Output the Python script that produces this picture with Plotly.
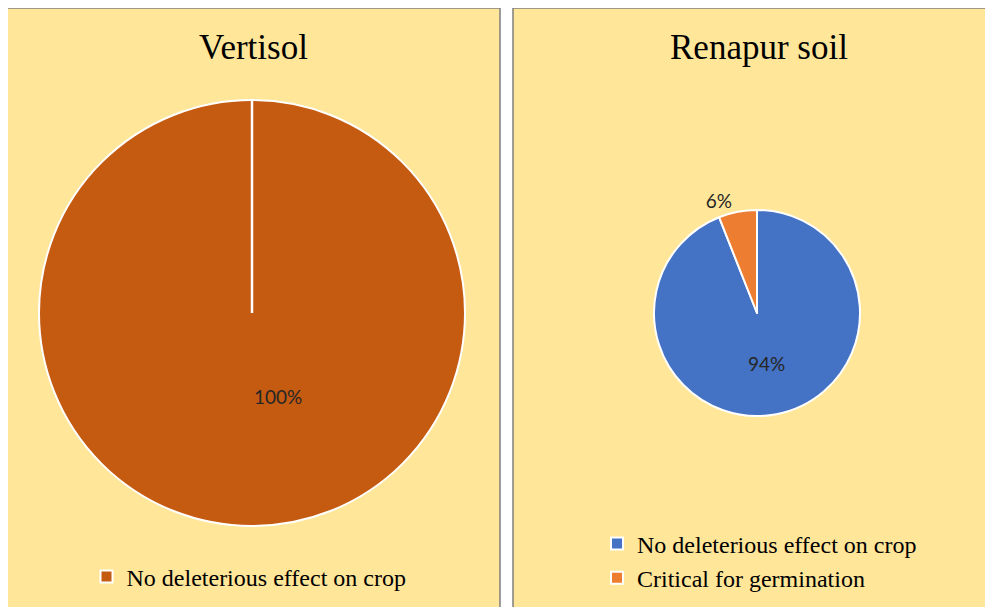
import plotly.graph_objects as go

# 데이터
vertisol_labels = ["No deleterious effect on crop"]
vertisol_values = [100]
# 오른쪽 범례가 왼쪽과 합쳐지지 않도록 라벨을 구분 (zero-width space)
renapur_labels = ["No deleterious effect on crop\u200b", "Critical for germination"]
renapur_values = [94, 6]

panel_bg = "#FFE699"
serif = "Liberation Serif"
sans = "Lato"

# 페이지 body 여백(8px)을 빼고 기준 그림의 픽셀 위치를 paper 좌표로 변환
W, H, OFF = 985, 599, 8


def px(X):
    return (X - OFF) / W


def py(Y):
    return 1 - (Y - OFF) / H


left_dom = dict(x=[px(39), px(465)], y=[py(526), py(100)])
right_dom = dict(x=[px(654), px(860)], y=[py(416), py(210)])

fig = go.Figure()

fig.add_trace(go.Pie(
    labels=vertisol_labels, values=vertisol_values,
    domain=left_dom, sort=False, direction="clockwise", rotation=0,
    marker=dict(colors=["#C55A11"], line=dict(color="white", width=2)),
    textinfo="none",
    legend="legend", showlegend=True,
))

fig.add_trace(go.Pie(
    labels=renapur_labels, values=renapur_values,
    domain=right_dom, sort=False, direction="clockwise", rotation=0,
    marker=dict(colors=["#4472C4", "#ED7D31"], line=dict(color="white", width=2)),
    textinfo="percent", textposition=["inside", "outside"],
    insidetextorientation="horizontal",
    textfont=dict(family=sans, size=19, color="#262626"),
    legend="legend2", showlegend=True,
))

# 패널 배경
for x0, x1 in [(px(3), px(500)), (px(513), px(1000))]:
    fig.add_shape(type="rect", xref="paper", yref="paper",
                  x0=x0, x1=x1, y0=-0.02, y1=py(8),
                  fillcolor=panel_bg, line=dict(color="#7F7F7F", width=1.5),
                  layer="below")

# Excel 단일 조각의 흰색 경계선
cx = sum(left_dom["x"]) / 2
cy = sum(left_dom["y"]) / 2
r_y = (left_dom["y"][1] - left_dom["y"][0]) / 2
fig.add_shape(type="line", xref="paper", yref="paper",
              x0=cx, x1=cx, y0=cy, y1=left_dom["y"][1],
              line=dict(color="white", width=2.5))

# 100% 라벨 (Excel 위치처럼 중심 아래쪽)
fig.add_annotation(text=f"{vertisol_values[0]}%", x=cx, y=cy - 0.39 * r_y,
                   xref="paper", yref="paper", showarrow=False,
                   font=dict(family=sans, size=19, color="#262626"))

# 제목
for txt, x in [("Vertisol", px(253)), ("Renapur soil", px(759))]:
    fig.add_annotation(text=txt, x=x, y=py(48), xref="paper", yref="paper",
                       showarrow=False, xanchor="center", yanchor="middle",
                       font=dict(family=serif, size=35, color="black"))

fig.update_layout(
    width=W, height=H,
    margin=dict(l=0, r=0, t=0, b=0),
    paper_bgcolor="white",
    legend=dict(x=px(249), y=py(577), xanchor="center", yanchor="middle",
                bgcolor="rgba(0,0,0,0)", font=dict(family=serif, size=24, color="black")),
    legend2=dict(x=px(597), y=py(561), xanchor="left", yanchor="middle",
                 bgcolor="rgba(0,0,0,0)", font=dict(family=serif, size=24, color="black")),
)

fig.write_html("out.html")
